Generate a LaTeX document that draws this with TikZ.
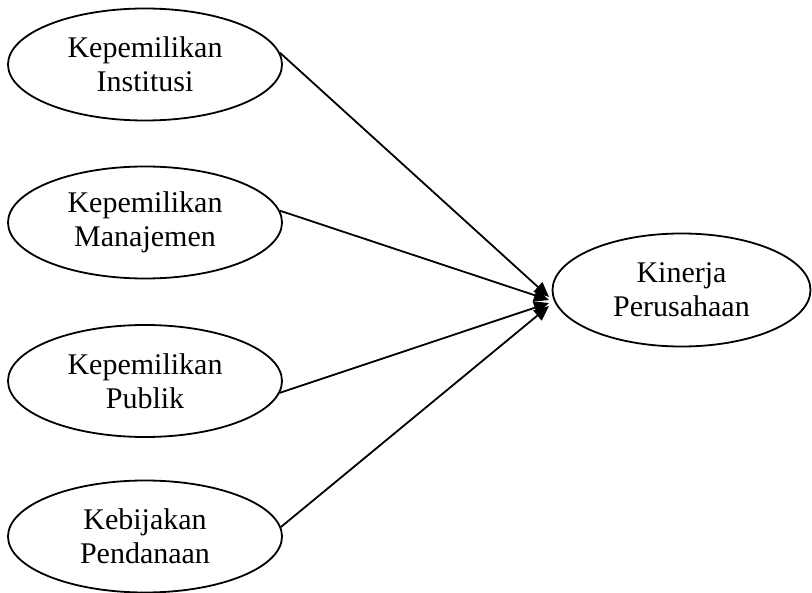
\documentclass[tikz,border=0pt]{standalone}
\usepackage{fontspec}
\setmainfont{Liberation Serif}
\usetikzlibrary{shapes.geometric,arrows.meta}
\begin{document}
\begin{tikzpicture}[x=1pt,y=-1pt,
  var/.style={draw,line width=1.8pt,ellipse,inner sep=0pt,minimum width=274pt,minimum height=112pt,align=center,font=\fontsize{30}{34}\selectfont},
  conn/.style={line width=1.8pt,-{Triangle[length=15pt,width=13pt]}}]
\useasboundingbox (0,0) rectangle (812,593);
\node[var] (a) at (145,64.5) {Kepemilikan\\Institusi};
\node[var] (b) at (145,222.5) {Kepemilikan\\Manajemen};
\node[var] (c) at (145,381) {Kepemilikan\\Publik};
\node[var] (d) at (145,536.5) {Kebijakan\\Pendanaan};
\node[var,minimum width=258pt,minimum height=113pt] (k) at (681.5,290) {Kinerja\\Perusahaan};
\coordinate (t1) at (549,297);
\coordinate (t2) at (549,300);
\coordinate (t3) at (549,303);
\coordinate (t4) at (549,306);
\draw[conn] (a.5) -- (t1);
\draw[conn] (b.5) -- (t2);
\draw[conn] (c.-5) -- (t3);
\draw[conn] (d.4) -- (t4);
\end{tikzpicture}
\end{document}
